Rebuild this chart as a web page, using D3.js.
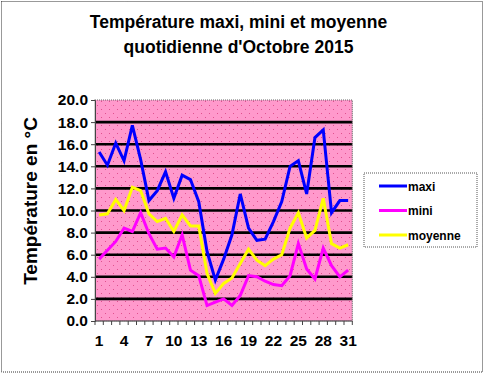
<!DOCTYPE html>
<html><head><meta charset="utf-8">
<script src="https://cdn.jsdelivr.net/npm/d3@7"></script>
<style>body{margin:0;background:#fff;}svg{display:block;font-family:"Liberation Sans",Arial,sans-serif;}</style>
</head><body>
<script>
const days = d3.range(1, 32);
const maxi = [15.3,14.1,16.1,14.5,17.7,14.6,10.9,11.8,13.5,11.1,13.2,12.8,10.8,6.3,3.7,5.6,7.8,11.5,8.4,7.3,7.4,9.0,10.8,14.0,14.5,11.5,16.6,17.3,9.8,10.9,10.9];
const mini = [5.6,6.4,7.2,8.4,8.1,9.8,7.9,6.5,6.6,5.8,7.8,4.6,4.1,1.4,1.7,2.0,1.4,2.3,4.1,4.0,3.6,3.3,3.2,4.1,7.0,4.7,3.8,6.6,5.0,4.0,4.6];
const moyenne = [9.6,9.7,11.0,10.0,12.1,11.8,9.7,9.0,9.3,8.1,9.6,8.6,8.6,4.3,2.5,3.4,3.9,5.2,6.5,5.5,5.0,5.6,6.0,8.4,9.8,7.5,8.2,11.1,7.0,6.6,6.9];
const yTicks = [0,2,4,6,8,10,12,14,16,18,20];
const xLabels = [1,4,7,10,13,16,19,22,25,28,31];
const seriesNames = ["maxi","mini","moyenne"];
const seriesColors = ["#0000FF","#FF00FF","#FFFF00"];
const titleLines = ["Température maxi, mini et moyenne","quotidienne d'Octobre 2015"];
const yTitle = "Température en °C";

const W = 484, H = 375;
const svg = d3.select("body").append("svg").attr("width", W).attr("height", H);

// outer border
svg.append("rect").attr("x",1.5).attr("y",1.5).attr("width",481).attr("height",370.5)
  .attr("fill","#fff").attr("stroke","#333").attr("stroke-width",1).attr("stroke-dasharray","1,1");

const L = 95, R = 352.3, T = 100, B = 321;
const x = d3.scaleBand().domain(days).range([L, R]).padding(0);
const y = d3.scaleLinear().domain([0, 20]).range([B, T]);

// pattern
const defs = svg.append("defs");
const pat = defs.append("pattern").attr("id","pinkdots").attr("patternUnits","userSpaceOnUse")
  .attr("width",8).attr("height",8);
pat.append("rect").attr("width",8).attr("height",8).attr("fill","#FF99CC");
pat.append("rect").attr("x",1).attr("y",1).attr("width",1).attr("height",1).attr("fill","#E0508F");
pat.append("rect").attr("x",5).attr("y",5).attr("width",1).attr("height",1).attr("fill","#E0508F");

svg.append("rect").attr("x",L).attr("y",T).attr("width",R-L).attr("height",B-T)
  .attr("fill","url(#pinkdots)");

// gridlines
svg.append("g").selectAll("line").data(yTicks.filter(d=>d>0 && d<20)).join("line")
  .attr("x1",L).attr("x2",R).attr("y1",d=>y(d)).attr("y2",d=>y(d))
  .attr("stroke","#000").attr("stroke-width",2.6);

// plot border
svg.append("rect").attr("x",L).attr("y",T).attr("width",R-L).attr("height",B-T)
  .attr("fill","none").attr("stroke","#666").attr("stroke-width",1.2).attr("stroke-dasharray","1,1");

// Y axis
const yAxis = d3.axisLeft(y).tickValues(yTicks).tickSize(4).tickPadding(3).tickFormat(d3.format(".1f"));
const gy = svg.append("g").attr("transform",`translate(${L},0)`).call(yAxis);
gy.select(".domain").attr("stroke","#444");
gy.selectAll(".tick line").attr("stroke","#444");
gy.selectAll("text").attr("font-size","15.5px").attr("font-weight","bold").attr("fill","#000")
  .attr("font-family","'Liberation Sans',Arial,sans-serif");

// X axis: ticks at band boundaries
const gx = svg.append("g").attr("transform",`translate(0,${B})`);
const bounds = days.map(d=>x(d)).concat([R]);
gx.append("line").attr("x1",L).attr("x2",R).attr("stroke","#444");
gx.selectAll("line.tk").data(bounds).join("line").attr("class","tk")
  .attr("x1",d=>d).attr("x2",d=>d).attr("y1",0).attr("y2",4).attr("stroke","#444");
gx.selectAll("text").data(xLabels).join("text")
  .attr("x",d=>x(d)+x.bandwidth()/2).attr("y",24.5)
  .attr("text-anchor","middle").attr("font-size","15.5px").attr("font-weight","bold").text(d=>d);

// lines
const series = [maxi, mini, moyenne];
const line = d3.line().x((d,i)=>x(days[i])+x.bandwidth()/2).y(d=>y(d));
series.forEach((s,k)=>{
  svg.append("path").datum(s).attr("d",line).attr("fill","none")
    .attr("stroke",seriesColors[k]).attr("stroke-width",3).attr("stroke-linejoin","miter");
});

// title
svg.append("g").selectAll("text").data(titleLines).join("text")
  .attr("x",238.5).attr("y",(d,i)=>28+i*24.5).attr("text-anchor","middle")
  .attr("font-size","17.5px").attr("font-weight","bold").text(d=>d);

// y title
svg.append("text").attr("transform","translate(37,201) rotate(-90)")
  .attr("text-anchor","middle").attr("font-size","19px").attr("font-weight","bold").text(yTitle);

// legend
svg.append("rect").attr("x",364).attr("y",173).attr("width",113).attr("height",74)
  .attr("fill","#fff").attr("stroke","#555").attr("stroke-dasharray","1,1");
const lg = svg.append("g").selectAll("g").data(seriesNames).join("g")
  .attr("transform",(d,i)=>`translate(379,${186+i*24.5})`);
lg.append("line").attr("x1",0).attr("x2",28).attr("stroke",(d,i)=>seriesColors[i]).attr("stroke-width",3);
lg.append("text").attr("x",29).attr("y",4.5).attr("font-size","12px").attr("font-weight","bold").text(d=>d);
</script>
</body></html>
